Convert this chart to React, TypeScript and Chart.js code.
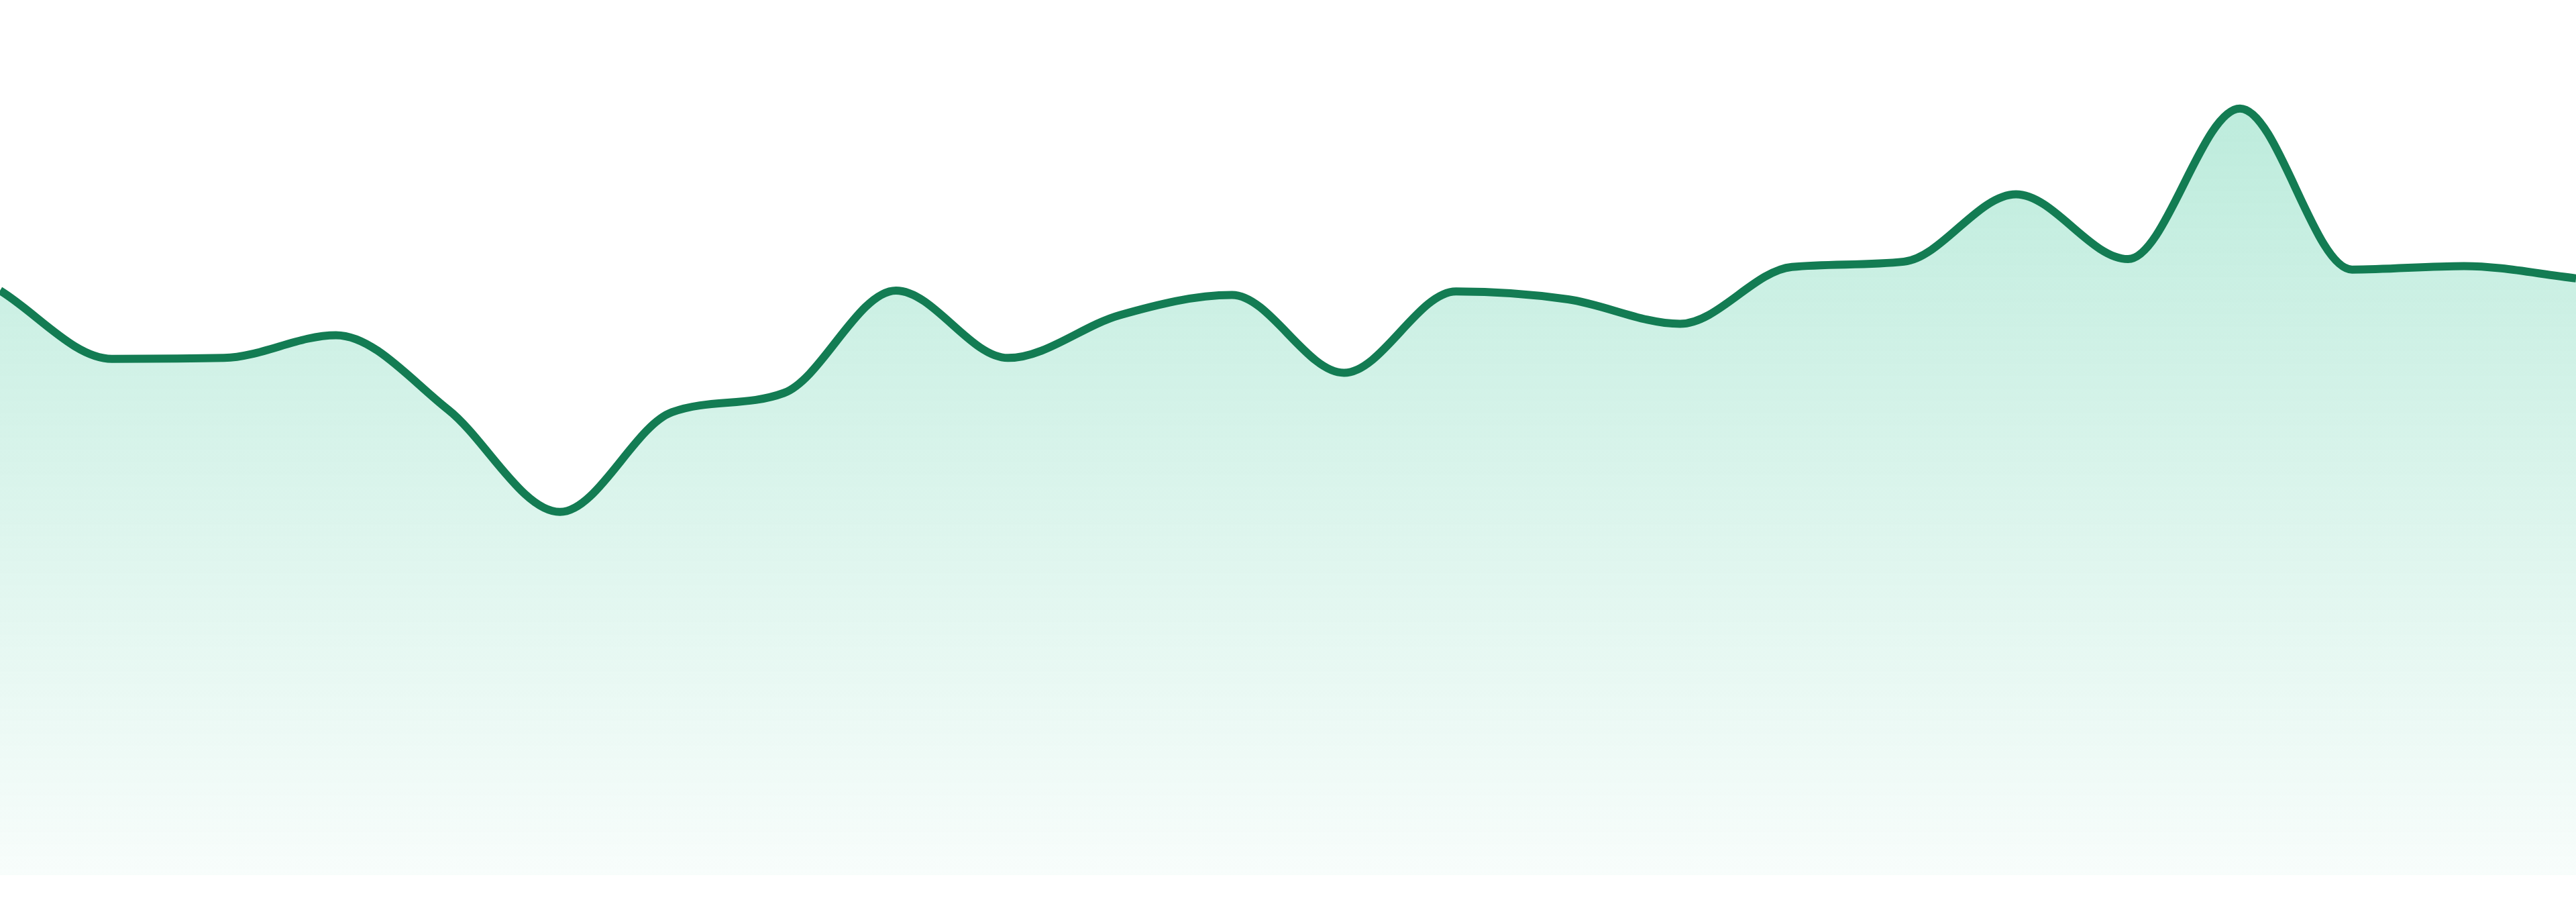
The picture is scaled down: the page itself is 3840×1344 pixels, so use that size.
import { Chart, registerables } from 'chart.js';
import { useEffect, useRef } from 'react';

Chart.register(...registerables);

const labels = [
  'D1', 'D2', 'D3', 'D4', 'D5', 'D6', 'D7', 'D8', 'D9', 'D10', 'D11', 'D12',
  'D13', 'D14', 'D15', 'D16', 'D17', 'D18', 'D19', 'D20', 'D21', 'D22', 'D23', 'D24',
];

const values = [
  66.8, 59.0, 59.1, 61.7, 53.2, 41.5, 52.9, 55.1, 66.8, 59.1, 64.0, 66.3,
  57.4, 66.7, 65.8, 63.0, 69.5, 70.1, 77.8, 70.4, 87.6, 69.2, 69.6, 68.2,
];

const yMin = 0;
const yMax = 100;

const lineColor = '#137c53';

export default function App() {
  const canvasRef = useRef<HTMLCanvasElement>(null);
  const chartRef = useRef<Chart | null>(null);

  useEffect(() => {
    document.body.style.margin = '0';
    if (!canvasRef.current) return;
    const context = canvasRef.current.getContext('2d');
    if (!context) return;

    chartRef.current = new Chart(context, {
      type: 'line',
      data: {
        labels,
        datasets: [
          {
            data: values,
            borderColor: lineColor,
            borderWidth: 12,
            pointRadius: 0,
            pointHoverRadius: 0,
            cubicInterpolationMode: 'monotone',
            fill: 'start',
            backgroundColor: (ctx) => {
              const area = ctx.chart.chartArea;
              if (!area) return 'rgba(16,185,129,0.2)';
              const g = ctx.chart.ctx.createLinearGradient(0, 0, 0, area.bottom);
              g.addColorStop(0, 'rgba(16,185,129,0.31)');
              g.addColorStop(1, 'rgba(16,185,129,0.03)');
              return g;
            },
          },
        ],
      },
      options: {
        animation: false,
        responsive: true,
        maintainAspectRatio: false,
        layout: { padding: 0 },
        scales: {
          x: { display: false, offset: false },
          y: { display: false, min: yMin, max: yMax },
        },
        plugins: {
          legend: { display: false },
          tooltip: { enabled: false },
        },
      },
    });

    return () => {
      chartRef.current?.destroy();
    };
  }, []);

  return (
    <div style={{ position: 'absolute', left: 0, top: 0, width: '100vw', height: 1304 }}>
      <canvas ref={canvasRef} />
    </div>
  );
}
